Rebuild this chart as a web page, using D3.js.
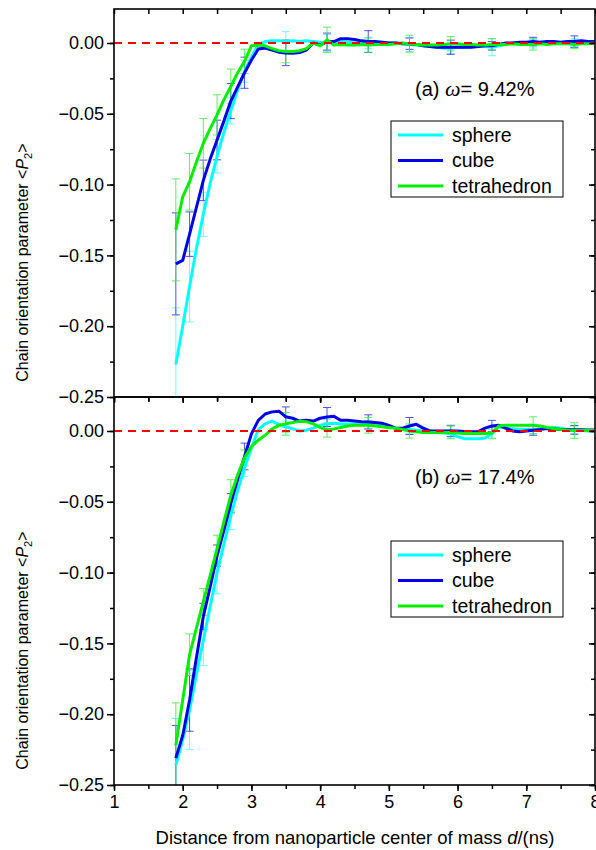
<!DOCTYPE html>
<html>
<head>
<meta charset="utf-8">
<script src="https://cdn.jsdelivr.net/npm/d3@7"></script>
<style>
  body { margin: 0; background: #fff; }
  text { font-family: "Liberation Sans", Arial, sans-serif; fill: #000; }
</style>
</head>
<body>
<script>
// x positions of the profile (d in ns)
const xVals = [1.9,2.0,2.1,2.2,2.3,2.4,2.5,2.6,2.7,2.8,
  2.9,3.0,3.1,3.2,3.3,3.4,3.5,3.6,3.7,3.8,
  3.9,4.0,4.1,4.2,4.3,4.4,4.5,4.6,4.7,4.8,
  4.9,5.0,5.1,5.2,5.3,5.4,5.5,5.6,5.7,5.8,
  5.9,6.0,6.1,6.2,6.3,6.4,6.5,6.6,6.7,6.8,
  6.9,7.0,7.1,7.2,7.3,7.4,7.5,7.6,7.7,7.8,
  7.9,8.0];

// panel (a) omega = 9.42%
const sphereA = [-0.227,-0.200,-0.172,-0.145,-0.121,-0.099,-0.080,-0.063,-0.048,-0.033,
  -0.020,-0.010,-0.001,0.001,0.0015,0.0015,0.001,0.0015,0.001,0.0015,
  0.001,0.0005,0.0,0.0005,0.001,0.0005,0.0,0.0005,0.0,0.0005,
  0.0005,0.0,0.0,-0.0005,-0.001,-0.0015,-0.002,-0.0025,-0.003,-0.0035,
  -0.0035,-0.003,-0.003,-0.0025,-0.002,-0.0025,-0.003,-0.002,-0.001,0.0,
  0.0,0.0,-0.0005,0.0,0.0005,0.0005,0.0,0.0005,0.0,0.0005,
  0.0005,0.0005];
const cubeA = [-0.156,-0.1535,-0.135,-0.116,-0.097,-0.082,-0.0685,-0.055,-0.041,-0.031,
  -0.021,-0.012,-0.0043,-0.0035,-0.005,-0.0065,-0.007,-0.0072,-0.0068,-0.005,
  0.0,-0.0015,0.001,0.001,0.003,0.003,0.0025,0.0015,0.001,0.001,
  0.0005,0.0,0.0,-0.0005,-0.0005,-0.001,-0.002,-0.0025,-0.003,-0.003,
  -0.003,-0.003,-0.003,-0.003,-0.0025,-0.002,-0.002,-0.001,0.0,0.0,
  0.0005,0.0005,0.001,0.0005,0.001,0.001,0.0005,0.001,0.001,0.0015,
  0.001,0.001];
const tetraA = [-0.132,-0.1086,-0.098,-0.084,-0.0708,-0.0605,-0.0508,-0.040,-0.0307,-0.021,
  -0.013,-0.002,-0.0015,-0.002,-0.004,-0.0055,-0.006,-0.006,-0.0055,-0.004,
  0.0,-0.002,0.0022,-0.0015,-0.001,-0.0015,-0.0015,-0.001,-0.0015,-0.001,
  -0.001,-0.001,-0.0005,0.0,-0.0005,-0.001,-0.0015,-0.0015,-0.0015,-0.001,
  -0.0005,-0.0005,-0.001,-0.001,-0.0015,-0.0015,-0.001,-0.001,-0.001,-0.0005,
  -0.001,-0.001,-0.001,-0.0005,-0.001,-0.0005,-0.0005,-0.0005,-0.001,-0.0005,
  -0.0005,0.0];

// panel (b) omega = 17.4%
const sphereB = [-0.236,-0.218,-0.197,-0.172,-0.148,-0.124,-0.100,-0.080,-0.060,-0.042,
  -0.026,-0.012,0.001,0.005,0.007,0.0045,0.003,0.0015,0.0,0.0005,
  0.002,0.004,0.005,0.0055,0.005,0.005,0.005,0.0045,0.0045,0.004,
  0.0035,0.003,0.002,0.0015,0.001,0.0005,0.0,-0.0005,-0.001,-0.0015,
  -0.002,-0.004,-0.0055,-0.0055,-0.0055,-0.005,-0.002,0.003,0.002,0.0015,
  0.001,0.001,0.001,0.0015,0.002,0.0025,0.002,0.001,0.0005,0.0005,
  0.0,0.0];
const cubeB = [-0.231,-0.215,-0.19,-0.16,-0.131,-0.11,-0.088,-0.07,-0.051,-0.034,
  -0.018,-0.002,0.0075,0.012,0.0135,0.014,0.01,0.009,0.007,0.0075,
  0.007,0.009,0.0099,0.0104,0.0075,0.0075,0.007,0.0065,0.0064,0.006,
  0.0055,0.004,0.002,0.002,0.0035,0.0047,0.002,0.0,0.0,0.0,
  0.0,0.0,-0.0003,-0.0005,-0.0005,0.002,0.0035,0.004,0.002,0.0,
  -0.0005,0.0,0.0005,0.001,0.0018,0.0015,0.001,0.0008,0.0008,0.0008,
  0.0007,0.0007];
const tetraB = [-0.222,-0.190,-0.158,-0.139,-0.1207,-0.102,-0.083,-0.064,-0.0454,-0.031,
  -0.019,-0.011,-0.0065,-0.003,0.0015,0.004,0.005,0.006,0.0068,0.0066,
  0.005,0.0025,0.0007,0.0015,0.0025,0.0035,0.004,0.004,0.004,0.0035,
  0.003,0.0025,0.002,0.001,0.0,-0.0006,-0.001,-0.001,-0.001,-0.001,
  -0.001,-0.0015,-0.0018,-0.0018,-0.0018,-0.0018,-0.0015,0.0035,0.004,0.004,
  0.004,0.004,0.004,0.0035,0.0025,0.0018,0.001,0.0005,0.0003,0.0003,
  0.0003,0.0003];

// error bars (half widths) at these x
const errX = [1.9,2.1,2.3,2.5,2.7,2.9,3.5,4.1,4.7,5.3,5.9,6.5,7.1,7.7];
const sphereAErr = [0.040,0.025,0.0156,0.0118,0.0092,0.0078,0.007,0.006,0.004,0.005,0.004,0.006,0.003,0.003];
const cubeAErr = [0.036,0.0157,0.0143,0.014,0.0124,0.011,0.009,0.006,0.0077,0.004,0.005,0.003,0.003,0.004];
const tetraAErr = [0.036,0.020,0.0175,0.0142,0.0123,0.0086,0.008,0.009,0.005,0.006,0.005,0.004,0.004,0.003];
const sphereBErr = [0.033,0.028,0.0177,0.015,0.0097,0.006,0.004,0.003,0.003,0.003,0.003,0.003,0.003,0.003];
const cubeBErr = [0.023,0.022,0.0093,0.0075,0.0068,0.0094,0.007,0.0067,0.005,0.006,0.004,0.004,0.0035,0.003];
const tetraBErr = [0.030,0.0147,0.0094,0.0094,0.011,0.0056,0.008,0.005,0.0055,0.005,0.0045,0.004,0.006,0.0055];

const seriesNames = ["sphere", "cube", "tetrahedron"];
const xTicks = [1, 2, 3, 4, 5, 6, 7, 8];
const yTicks = [0, -0.05, -0.10, -0.15, -0.20, -0.25];

const colors = ["#00ffff", "#0000e6", "#00ee00"];
const errColors = ["#55ffff", "#3333ee", "#44ee44"];

let width = 596, height = 850;
let left = 114, right = 595;

let svg = d3.select("body").append("svg")
  .attr("width", width)
  .attr("height", height);

let x = d3.scaleLinear().domain([1, 8]).range([left, right]);

function drawPanel(top, bottom, series, errs, tag, omega, legendTop, id) {
  let y = d3.scaleLinear().domain([-0.25, 0.024]).range([bottom, top]);
  let g = svg.append("g");

  g.append("clipPath").attr("id", "clip" + id)
    .append("rect")
    .attr("x", left).attr("y", top)
    .attr("width", right - left).attr("height", bottom - top);

  let plot = g.append("g").attr("clip-path", "url(#clip" + id + ")");

  let line = d3.line()
    .x(function(d, i) { return x(xVals[i]); })
    .y(function(d) { return y(d); });

  // error bars first, lines on top
  series.forEach(function(vals, s) {
    let bars = plot.append("g")
      .attr("stroke", errColors[s])
      .attr("stroke-width", 1)
      .attr("opacity", 0.85);
    errX.forEach(function(ex, k) {
      let i = xVals.findIndex(function(v) { return Math.abs(v - ex) < 1e-6; });
      let cx = x(ex);
      let y1 = y(vals[i] + errs[s][k]);
      let y2 = y(vals[i] - errs[s][k]);
      bars.append("line").attr("x1", cx).attr("x2", cx).attr("y1", y1).attr("y2", y2);
      bars.append("line").attr("x1", cx - 4).attr("x2", cx + 4).attr("y1", y1).attr("y2", y1);
      bars.append("line").attr("x1", cx - 4).attr("x2", cx + 4).attr("y1", y2).attr("y2", y2);
    });
  });
  series.forEach(function(vals, s) {
    plot.append("path")
      .datum(vals)
      .attr("fill", "none")
      .attr("stroke", colors[s])
      .attr("stroke-width", 3)
      .attr("stroke-linejoin", "round")
      .attr("d", line);
  });

  // zero reference line
  plot.append("line")
    .attr("x1", x(1)).attr("x2", x(8))
    .attr("y1", y(0)).attr("y2", y(0))
    .attr("stroke", "#ff0000")
    .attr("stroke-width", 2)
    .attr("stroke-dasharray", "8,6");

  // axes: left and bottom outward, top and right inward
  let minorY = d3.range(0, 11).map(function(k) { return -0.025 * k; });
  let minorX = d3.range(1, 8.01, 0.5);

  g.append("g")
    .attr("transform", "translate(" + left + ",0)")
    .call(d3.axisLeft(y).tickValues(minorY).tickSize(4).tickFormat(""));
  g.append("g")
    .attr("transform", "translate(" + left + ",0)")
    .call(d3.axisLeft(y).tickValues(yTicks).tickSize(7).tickPadding(3)
      .tickFormat(d3.format(".2f")));
  g.append("g")
    .attr("transform", "translate(" + right + ",0)")
    .call(d3.axisLeft(y).tickValues(minorY).tickSize(4).tickFormat(""));
  g.append("g")
    .attr("transform", "translate(" + right + ",0)")
    .call(d3.axisLeft(y).tickValues(yTicks).tickSize(6).tickFormat(""));

  g.append("g")
    .attr("transform", "translate(0," + top + ")")
    .call(d3.axisBottom(x).tickValues(minorX).tickSize(5).tickFormat(""));
  g.append("g")
    .attr("transform", "translate(0," + bottom + ")")
    .call(d3.axisBottom(x).tickValues(minorX).tickSize(4).tickFormat(""));
  g.append("g")
    .attr("transform", "translate(0," + bottom + ")")
    .call(d3.axisBottom(x).tickValues(xTicks).tickSize(6).tickPadding(4)
      .tickFormat(id == "b" ? d3.format("d") : ""));

  g.selectAll(".domain").remove();
  g.selectAll(".tick line").attr("stroke", "#000").attr("stroke-width", 1.5);
  g.selectAll(".tick text")
    .style("font-family", "'Liberation Sans', Arial, sans-serif")
    .style("font-size", "18px")
    .attr("fill", "#000");

  // frame
  g.append("rect")
    .attr("x", left).attr("y", top)
    .attr("width", right - left).attr("height", bottom - top)
    .attr("fill", "none")
    .attr("stroke", "#000")
    .attr("stroke-width", 1.6);

  // panel tag
  let t = g.append("text")
    .attr("x", 415).attr("y", y(0) + 53)
    .style("font-size", "20px");
  t.append("tspan").text(tag + " ");
  t.append("tspan").text("ω").style("font-family", "'Liberation Serif', 'Times New Roman', serif")
    .style("font-style", "italic").style("font-size", "22px");
  t.append("tspan").text("= " + omega);

  // legend
  let lg = g.append("g").attr("transform", "translate(391," + legendTop + ")");
  lg.append("rect")
    .attr("width", 172).attr("height", 76)
    .attr("fill", "#fff").attr("stroke", "#000").attr("stroke-width", 1);
  seriesNames.forEach(function(name, s) {
    let ly = 14 + s * 25.5;
    lg.append("line")
      .attr("x1", 7).attr("x2", 52).attr("y1", ly).attr("y2", ly)
      .attr("stroke", colors[s]).attr("stroke-width", 3);
    lg.append("text")
      .attr("x", 61).attr("y", ly + 6.5)
      .style("font-size", "19.5px")
      .text(name);
  });

  // y axis title
  let yt = g.append("text")
    .attr("transform", "translate(28," + (y(-0.1) + 78) + ") rotate(-90)")
    .attr("text-anchor", "middle")
    .style("font-size", "16px");
  yt.append("tspan").text("Chain orientation parameter <");
  yt.append("tspan").text("P").style("font-style", "italic");
  yt.append("tspan").text("2").attr("dy", 4).style("font-size", "11px");
  yt.append("tspan").text(">").attr("dy", -4);
}

drawPanel(9, 397, [sphereA, cubeA, tetraA],
  [sphereAErr, cubeAErr, tetraAErr], "(a)", "9.42%", 121, "a");
drawPanel(397, 785, [sphereB, cubeB, tetraB],
  [sphereBErr, cubeBErr, tetraBErr], "(b)", "17.4%", 541, "b");

// x axis title
let xt = svg.append("text")
  .attr("x", 355).attr("y", 844)
  .attr("text-anchor", "middle")
  .style("font-size", "18.5px");
xt.append("tspan").text("Distance from nanoparticle center of mass ");
xt.append("tspan").text("d").style("font-style", "italic");
xt.append("tspan").text("/(ns)");
</script>
</body>
</html>
